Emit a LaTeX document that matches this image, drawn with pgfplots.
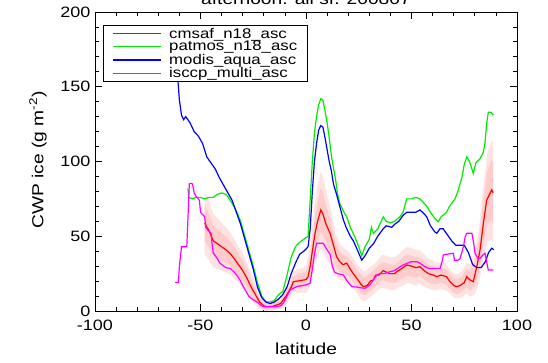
\documentclass[border=0pt]{standalone}
\usepackage{fontspec}
\setmainfont{Liberation Sans}[FakeStretch=1.2]
\usepackage{pgfplots}
\pgfplotsset{compat=1.18}
\usepackage{pgfplotstable}

\definecolor{bandout}{RGB}{255,226,226}
\definecolor{bandin}{RGB}{255,204,204}
\definecolor{cred}{RGB}{255,0,0}
\definecolor{cgreen}{RGB}{0,235,0}
\definecolor{cblue}{RGB}{0,0,255}
\definecolor{cmag}{RGB}{255,0,255}
\newcommand{\legline}[1]{\textcolor{#1}{\rule[3.6pt]{48pt}{1.2pt}}\hspace{8pt}}

\pgfplotstableread{
lat val
-48 59
-47 56
-46 54
-44 47
-42 45
-40 43
-38 41
-36 38.6
-34 35
-32 31
-30 27
-28 22
-26 16
-24 11
-22 6
-20 3.5
-18.6 2.9
-16 3
-14 4
-12 5
-10.8 7.4
-9 11
-7 16
-6 19.6
-4 20
-2 20.5
0 21
1 23
2 30
3 40
4.3 52
5.5 60
7 67.6
8 65
9.5 58
11.4 52
13 44
14.5 36.3
16 33
17.5 31
19.3 32
21 28
22.4 25
24 22
26 18
27.2 16.3
29 17
30.5 20
31.9 20.7
33 24
34.5 24
36.6 27
38 26
40 25
42 25
43 26.3
45 28
47.7 30.8
50 30
52 29
54 29.6
56 27
58 25
60.3 24
62 23
64 24
66.6 23
68 20
70 17
71.4 16.3
73 17
75 19
76.2 23
77.5 21
79.3 19.6
81 30
82.5 41
84 58
85.6 74
87 78
88 81
88.7 79
}\cmsaf

\pgfplotstableread{
lat val
-56 82
-55.5 76
-54 75
-52 76
-50 76
-48 75
-46 76
-44 76
-42 78
-40 79
-38 78
-36.8 76
-35 72
-33 67
-31 60
-29 50
-27 40
-25 30
-23 19
-21 10
-19 6
-17 6
-15 7
-13 11
-11 13
-9 24
-7 36
-5 43
-3 46
-1 48
1 50
2 75
3 100
4 119
5 130
6 138
7 142
8 141
9 134
10 126
11 116
12 104
13 96
14 88
15 78
16 72
18 66
19.3 63
21 56
23 50
25 43
26.4 37
28 43
30 48
31 56
32 52
34 55
36.6 63
38 60
40 59
42 60
44.5 63
46 66
47.7 75
50 75
52 76
54 75
56 72
57.2 70
59 66
61 62
62.7 59.7
64 63
66.6 66
68 70
70.6 75
72 80
74 90
75 98
76.2 103
77.5 100
79.3 92
80.5 99
82.5 102
84 106
84.8 112
85.6 125
86.4 133
87.5 133
88.8 131
}\patmos

\pgfplotstableread{
lat val
-62 181
-61 160
-60 141
-59 131
-58 128
-57 130
-56 128
-55 126
-53 120
-51 117
-49 112
-47 103
-45 99
-43 95
-41 89
-39 84
-37 79
-35 74
-33 66
-31 58
-29 48
-27 38
-25 28
-23 16
-21 9
-19 6
-17 5
-15 6
-13 8
-11 11
-9 16
-7 25
-5 32
-3 38
-1 40
1 43
2 55
3 80
4 100
5 112
6 121
7 124
8 123
9 116
10 108
11 100
12 94
13 85
14.5 78
16 70
17.7 61
19 56
21 50
22.4 47
24 42
26.4 34
28 37
30 42
32 45
34 50
36.6 55
38 57
40.6 56
42 58
44 60
46 64
47.7 66
50 66
52 66
54 67.6
56 65
57.2 63
59 57
61 53
62 52
63.5 55
65 55
67 51
69 47
71 44
73 44
75 44
77 39
79 31
81 29
83 29
85 33
86.5 39
88 42
89 41
}\modis

\pgfplotstableread{
lat val
-62 19
-60.5 19
-60 30
-59 43
-56.5 43
-56 60
-55.3 85
-54.5 85.4
-53.8 85
-53 79
-52 76.5
-50.5 74
-50 66
-48 63
-47.5 56
-46.5 54
-45 52
-44.5 45
-44 39
-42 35
-40.8 32
-38 29
-36 28.5
-34 26
-32.8 24
-31 20
-29.7 16.3
-28 12
-27 9.6
-25 7.5
-23.4 6.2
-21.5 4
-20 2.9
-14 2.9
-12 3.5
-10.8 5.1
-9 10
-7.6 14
-5.5 15.5
-4.4 16.3
-2 17
0 17.5
1.9 18.5
3 28
4 38
5 45.3
8.2 45.3
9.5 42
11.4 38
12.5 30
13.5 26
15 25
17.7 24.1
19.5 20
21.7 16.3
24 16
26 15.5
28 15.2
30 17
31.5 20
33.5 24
35 25
37 25
39.8 26.3
42 27
44 29
46.1 30.8
48 32
50 33
52.5 33
54 32
56 30
58 28.5
60 28.5
62 28.5
63.5 28.5
64.5 33
65.1 37.5
67 38
69.8 38.6
70.4 34
72 34
73 35
74 40
74.6 43
75.5 50
76.2 52
78.6 52
79.5 45
80.1 38.6
81.5 35.2
82.5 35.2
83.5 37
84.8 38.6
85.6 33
86.4 27.4
88.8 27.4
}\isccp

\begin{document}
\begin{tikzpicture}
\begin{axis}[
  at={(95pt,52pt)}, anchor=south west,
  width=422pt, height=299pt, scale only axis,
  xmin=-100, xmax=100, ymin=0, ymax=200,
  xtick={-100,-50,0,50,100}, ytick={0,50,100,150,200},
  minor tick num=4,
  tick align=inside,
  major tick length=7pt, minor tick length=4pt,
  every tick/.style={black, line width=0.8pt},
  axis line style={black, line width=0.9pt},
  /pgf/number format/assume math mode=true,
  ticklabel style={font=\fontsize{15}{17}\selectfont},
  xticklabel style={yshift=-5pt},
  yticklabel style={xshift=-1pt},
  xlabel={latitude}, ylabel={CWP ice (g m\textsuperscript{-2})},
  label style={font=\fontsize{16}{18}\selectfont},
  xlabel style={at={(axis description cs:0.5,-0.127)}, anchor=center},
  ylabel style={at={(axis description cs:-0.135,0.505)}, anchor=center},
  legend style={at={(axis description cs:0.019,0.955)}, anchor=north west,
    draw=black, font=\fontsize{14}{15}\selectfont,
    inner xsep=8pt, inner ysep=1.5pt, row sep=0pt,
    nodes={inner ysep=0.8pt}},
  legend cell align=left,
]
\addplot[fill=bandout, draw=none, forget plot] coordinates {
(-48,80)(-46,74)(-44,65)(-42,62)(-40,59)(-38,56)(-36,52.6)(-34,48)(-32,43)(-30,39)(-28,32)(-26,25)(-24,18)(-22,11)(-20,6.5)(-18,5.9)(-16,6)(-14,7)(-12,9)(-10,13.5)(-8,19)(-6,26.6)(-4,28)(-2,28.5)(0,30)(2,43)(4,70)(5.5,84)(7,93.6)(8,90)(10,78)(12,66)(14,52)(16,45)(18,42)(20,40)(22,36)(24,32)(26,28)(28,26.5)(30,29)(32,31)(34,34)(36,37.5)(38,37)(40,36)(42,36)(44,38)(46,41)(48,42.8)(50,42)(52,41)(54,40.6)(56,38)(58,35)(60,34)(62,32)(64,33)(66,32)(68,28)(70,25)(72,24.5)(74,27)(76,32)(78,31.5)(80,39)(82,55)(84,82)(86,106)(88,114)(88.7,112)
(88.7,46)(88,48)(86,46)(84,34)(82,19)(80,11)(78,9.5)(76,12)(74,9)(72,8.5)(70,9)(68,12)(66,14)(64,15)(62,14)(60,14)(58,15)(56,16)(54,18.6)(52,17)(50,18)(48,18.8)(46,17)(44,16)(42,14)(40,14)(38,15)(36,15.5)(34,14)(32,11)(30,9)(28,6.5)(26,8)(24,12)(22,16)(20,20)(18,20)(16,21)(14,24)(12,30)(10,34)(8,40)(7,41.6)(5.5,36)(4,30)(2,17)(0,12)(-2,12.5)(-4,12)(-6,12.6)(-8,7)(-10,3.5)(-12,1)(-14,1)(-16,0)(-18,0)(-20,0.5)(-22,1)(-24,4)(-26,7)(-28,12)(-30,15)(-32,19)(-34,22)(-36,24.6)(-38,26)(-40,27)(-42,28)(-44,29)(-46,34)(-48,38)
} -- cycle;
\addplot[fill=bandin, draw=none, forget plot] coordinates {
(-48,71)(-46,65)(-44,57)(-42,55)(-40,52)(-38,50)(-36,46.6)(-34,43)(-32,38)(-30,34)(-28,28)(-26,21)(-24,15)(-22,9)(-20,5.5)(-18,4.9)(-16,5)(-14,6)(-12,7)(-10,11.5)(-8,16)(-6,23.6)(-4,24)(-2,25.5)(0,26)(2,37)(4,61)(5.5,73)(7,82.6)(8,79)(10,68)(12,58)(14,46)(16,40)(18,37)(20,36)(22,32)(24,28)(26,24)(28,22.5)(30,25)(32,27)(34,30)(36,32.5)(38,32)(40,31)(42,31)(44,33)(46,36)(48,37.8)(50,37)(52,36)(54,35.6)(56,33)(58,31)(60,30)(62,28)(64,29)(66,28)(68,25)(70,22)(72,21.5)(74,23)(76,28)(78,27.5)(80,33)(82,48)(84,72)(86,94)(88,101)(88.7,99)
(88.7,59)(88,61)(86,58)(84,44)(82,26)(80,17)(78,13.5)(76,16)(74,13)(72,11.5)(70,12)(68,15)(66,18)(64,19)(62,18)(60,18)(58,19)(56,21)(54,23.6)(52,22)(50,23)(48,23.8)(46,22)(44,21)(42,19)(40,19)(38,20)(36,20.5)(34,18)(32,15)(30,13)(28,10.5)(26,12)(24,16)(22,20)(20,24)(18,25)(16,26)(14,30)(12,38)(10,44)(8,51)(7,52.6)(5.5,47)(4,39)(2,23)(0,16)(-2,15.5)(-4,16)(-6,15.6)(-8,10)(-10,5.5)(-12,3)(-14,2)(-16,1)(-18,0.9)(-20,1.5)(-22,3)(-24,7)(-26,11)(-28,16)(-30,20)(-32,24)(-34,27)(-36,30.6)(-38,32)(-40,34)(-42,35)(-44,37)(-46,43)(-48,47)
} -- cycle;
\addplot[cred, line width=1.2pt, forget plot] table[x=lat,y=val]{\cmsaf};
\addplot[cgreen, line width=1.2pt, forget plot] table[x=lat,y=val]{\patmos};
\addplot[cblue, line width=1.2pt, forget plot] table[x=lat,y=val]{\modis};
\addplot[cmag, line width=1.2pt, forget plot] table[x=lat,y=val]{\isccp};
\addlegendimage{empty legend}
\addlegendentry{\legline{cred}cmsaf\_n18\_asc}
\addlegendimage{empty legend}
\addlegendentry{\legline{cgreen}patmos\_n18\_asc}
\addlegendimage{empty legend}
\addlegendentry{\legline{cblue}modis\_aqua\_asc}
\addlegendimage{empty legend}
\addlegendentry{\legline{cmag}isccp\_multi\_asc}
\end{axis}
\node[anchor=base, font=\fontsize{16}{18}\selectfont] at (306pt,358pt) {afternoon: all sf. 200807};
\pgfresetboundingbox
\useasboundingbox (0,0) rectangle (548pt,363pt);
\end{tikzpicture}
\end{document}
